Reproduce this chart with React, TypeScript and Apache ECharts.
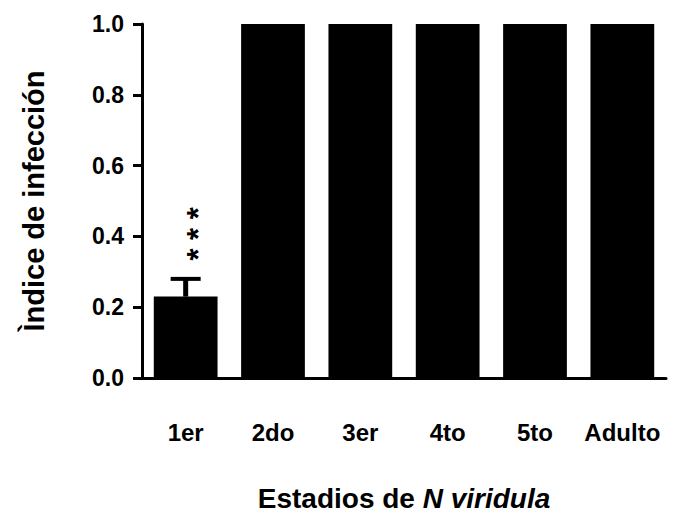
import React, { useEffect, useRef } from "react";
import * as echarts from "echarts";

const categories = ["1er", "2do", "3er", "4to", "5to", "Adulto"];
const values = [0.23, 1.0, 1.0, 1.0, 1.0, 1.0];
const errors = [0.05, 0, 0, 0, 0, 0];
const significance = ["***", "", "", "", "", ""];
const yTicks = { min: 0, max: 1, interval: 0.2 };

const FONT = "'Liberation Sans', Arial, Helvetica, sans-serif";

export default function App() {
  const ref = useRef<HTMLDivElement>(null);
  useEffect(() => {
    if (!ref.current) return;
    const chart = echarts.init(ref.current, undefined, { renderer: "svg" });
    const errData = categories.map((c, i) => [i, values[i], errors[i]]);
    chart.setOption({
      animation: false,
      backgroundColor: "#ffffff",
      textStyle: { fontFamily: FONT },
      grid: { left: 142, right: 7, top: 24, bottom: 136, containLabel: false, outerBoundsMode: "none" },
      xAxis: {
        type: "category",
        data: categories,
        boundaryGap: true,
        axisLine: { lineStyle: { color: "#000", width: 3 } },
        axisTick: { alignWithLabel: true, length: 9, lineStyle: { color: "#000", width: 3 } },
        axisLabel: {
          interval: 0,
          color: "#000",
          fontSize: 24,
          fontWeight: "bold",
          fontFamily: FONT,
          margin: 42,
        },
        name: "{a|Estadios de }{b|N viridula}",
        nameLocation: "middle",
        nameGap: 108,
        nameTextStyle: {
          lineHeight: 24,
          rich: {
            a: { fontSize: 28, lineHeight: 24, fontWeight: "bold", color: "#000", fontFamily: FONT },
            b: { fontSize: 28, lineHeight: 24, fontWeight: "bold", fontStyle: "italic", color: "#000", fontFamily: FONT },
          },
        },
      },
      yAxis: {
        type: "value",
        min: yTicks.min,
        max: yTicks.max,
        interval: yTicks.interval,
        axisLine: { show: true, lineStyle: { color: "#000", width: 3 } },
        axisTick: { show: true, length: 9, lineStyle: { color: "#000", width: 3 } },
        splitLine: { show: false },
        axisLabel: {
          color: "#000",
          fontSize: 23,
          fontWeight: "bold",
          fontFamily: FONT,
          margin: 18,
          formatter: (v: number) => v.toFixed(1),
        },
        name: "Ìndice de infección",
        nameLocation: "middle",
        nameGap: 94,
        nameRotate: 90,
        nameTextStyle: { fontSize: 29, fontWeight: "bold", color: "#000", fontFamily: FONT },
      },
      series: [
        {
          type: "bar",
          data: values,
          barCategoryGap: "27%",
          itemStyle: { color: "#000" },
        },
        {
          type: "custom",
          data: errData,
          z: 5,
          renderItem: (params: any, api: any) => {
            const idx = api.value(0);
            const v = api.value(1);
            const e = api.value(2);
            const sig = significance[params.dataIndex] || "";
            const children: any[] = [];
            const base = api.coord([idx, v]);
            const top = api.coord([idx, v + e]);
            if (e > 0) {
              children.push({
                type: "line",
                shape: { x1: base[0], y1: base[1], x2: top[0], y2: top[1] },
                style: { stroke: "#000", lineWidth: 5 },
              });
              children.push({
                type: "line",
                shape: { x1: top[0] - 15, y1: top[1], x2: top[0] + 15, y2: top[1] },
                style: { stroke: "#000", lineWidth: 4 },
              });
            }
            if (sig) {
              children.push({
                type: "text",
                x: top[0] + 6 + 7,
                y: top[1] - 45,
                rotation: Math.PI / 2,
                style: {
                  text: sig.split("").join(" "),
                  x: 0,
                  y: 0,
                  align: "center",
                  verticalAlign: "middle",
                  font: "bold 31px " + FONT,
                  fill: "#000",
                },
              });
            }
            return { type: "group", children };
          },
        },
      ],
    });
    return () => chart.dispose();
  }, []);
  return (
    <div
      ref={ref}
      style={{ position: "fixed", left: 0, top: 0, width: 673, height: 514, background: "#fff" }}
    />
  );
}
